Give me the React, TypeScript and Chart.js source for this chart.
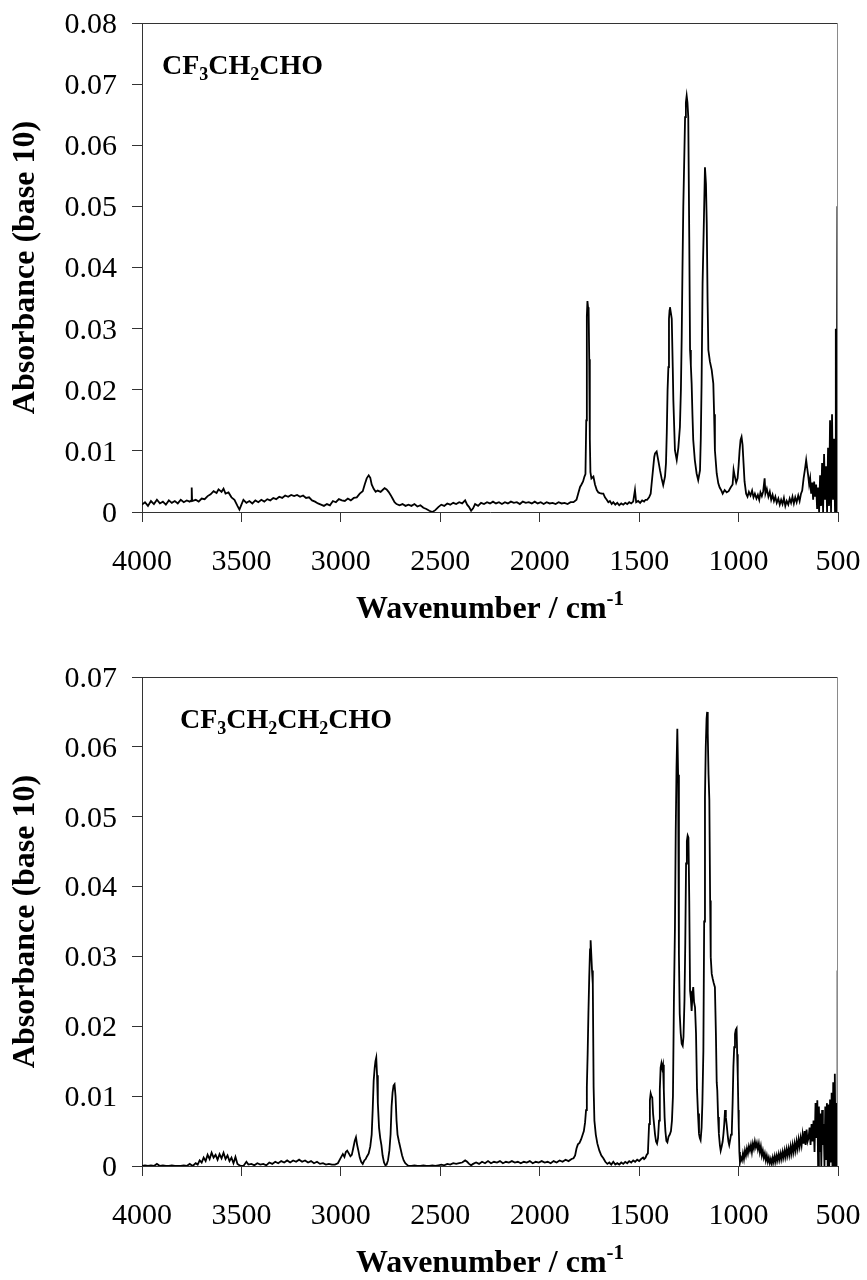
import React, { useEffect, useRef } from "react";
import { Chart, registerables } from "chart.js";

Chart.register(...registerables);

type Pair = [number, number];
type Run = { t: string; sub?: boolean; sup?: boolean };

// ---- axes ----
const X_MIN = 500;
const X_MAX = 4000;
const X_STEP = 500;
const Y_STEP = 0.01;
const topYMax = 0.08;
const bottomYMax = 0.07;

// ---- text ----
const yAxisTitle = "Absorbance (base 10)";
const xAxisTitle: Run[] = [{ t: "Wavenumber / cm" }, { t: "-1", sup: true }];
const topCompound: Run[] = [
  { t: "CF" }, { t: "3", sub: true }, { t: "CH" }, { t: "2", sub: true }, { t: "CHO" },
];
const bottomCompound: Run[] = [
  { t: "CF" }, { t: "3", sub: true }, { t: "CH" }, { t: "2", sub: true },
  { t: "CH" }, { t: "2", sub: true }, { t: "CHO" },
];

// ---- CF3CH2CHO spectrum: [wavenumber, absorbance] ----
const topHigh: Pair[] = [
  [4000,0.0012],[3985,0.0016],[3970,0.0010],[3955,0.0018],[3940,0.0013],[3925,0.0020],[3910,0.0014],[3895,0.0017],[3880,0.0012],[3865,0.0019],[3850,0.0015],[3835,0.0018],[3820,0.0014],[3805,0.0020],[3790,0.0016],[3775,0.0019],[3760,0.0017],[3752,0.0019],[3750,0.0040],[3748,0.0018],[3730,0.0020],[3715,0.0017],[3700,0.0022],[3685,0.0021],[3670,0.0026],[3655,0.0029],[3640,0.0034],[3625,0.0031],[3615,0.0037],[3600,0.0033],[3590,0.0038],[3580,0.0030],[3565,0.0032],[3550,0.0024],[3535,0.0020],[3520,0.0010],[3510,0.0004],[3500,0.0012],[3490,0.0020],[3475,0.0015],[3460,0.0018],[3445,0.0014],[3430,0.0019],[3415,0.0016],[3400,0.0020],[3385,0.0017],[3370,0.0021],[3355,0.0019],[3340,0.0023],[3325,0.0021],[3310,0.0025],[3295,0.0023],[3280,0.0027],[3265,0.0025],[3250,0.0028],[3235,0.0026],[3220,0.0028],[3205,0.0025],[3190,0.0027],[3175,0.0023],[3160,0.0024],[3145,0.0019],[3130,0.0017],[3115,0.0014],[3100,0.0012],[3085,0.0010],[3070,0.0013],[3055,0.0011],[3040,0.0018],[3025,0.0016],[3010,0.0021],[2995,0.0019],[2980,0.0018],[2965,0.0022],[2950,0.0019],[2935,0.0023],[2920,0.0024],[2905,0.0030],[2890,0.0034],[2880,0.0045],[2870,0.0055],[2860,0.0060],[2852,0.0056],[2845,0.0045],[2835,0.0038],[2825,0.0033],[2815,0.0035],[2800,0.0033],[2790,0.0036],[2780,0.0039],[2770,0.0037],[2760,0.0033],[2750,0.0028],[2740,0.0022],[2730,0.0016],[2720,0.0013],[2705,0.0011],[2690,0.0013],[2675,0.0010],[2660,0.0012],[2645,0.0010],[2630,0.0013],[2615,0.0009],[2600,0.0011],[2585,0.0007],[2570,0.0005],[2555,0.0002],[2540,0.0000],[2525,0.0003],[2510,0.0008],[2495,0.0012],[2480,0.0010],[2465,0.0014],[2450,0.0012],[2435,0.0015],[2420,0.0013],[2405,0.0016],[2390,0.0014],[2375,0.0019],[2365,0.0012],[2355,0.0008],[2345,0.0002],[2335,0.0006],[2325,0.0013],[2310,0.0010],[2295,0.0015],[2280,0.0013],[2265,0.0016],[2250,0.0014],[2235,0.0017],[2220,0.0014],[2205,0.0016],[2190,0.0013],[2175,0.0016],[2160,0.0014],[2145,0.0017],[2130,0.0015],[2115,0.0016],[2100,0.0013],[2085,0.0017],[2070,0.0015],[2055,0.0016],[2040,0.0014],[2025,0.0017],[2010,0.0014],[1995,0.0016],[1980,0.0013],[1965,0.0016],[1950,0.0014],[1935,0.0015],[1920,0.0013],[1905,0.0016],[1890,0.0014],[1875,0.0015],[1860,0.0013],[1845,0.0016],
];
const topCarbonyl: Pair[] = [
  [1830,0.0016],[1815,0.0020],[1805,0.0032],[1797,0.0041],[1790,0.0045],[1782,0.0050],[1775,0.0058],[1770,0.0062],[1766,0.0150],[1763,0.0320],[1760,0.0345],[1757,0.0335],[1754,0.0330],[1751,0.0250],[1748,0.0120],[1745,0.0065],[1740,0.0055],[1730,0.0058],[1722,0.0045],[1713,0.0036],[1705,0.0032],[1697,0.0031],[1688,0.0030],[1680,0.0030],[1672,0.0024],[1663,0.0020],[1655,0.0016],[1647,0.0018],[1638,0.0013],[1630,0.0016],[1620,0.0012],[1610,0.0015],[1600,0.0011],[1590,0.0014],[1580,0.0012],[1570,0.0015],[1560,0.0013],[1550,0.0016],[1540,0.0014],[1530,0.0017],[1521,0.0036],[1515,0.0016],[1505,0.0018],[1495,0.0015],[1485,0.0019],[1475,0.0017],[1468,0.0020],
];
const topFingerprint: Pair[] = [
  [1460,0.0020],[1450,0.0024],[1442,0.0030],[1437,0.0047],[1430,0.0070],[1424,0.0090],[1420,0.0096],[1412,0.0099],[1404,0.0085],[1395,0.0068],[1387,0.0055],[1379,0.0044],[1370,0.0058],[1365,0.0080],[1361,0.0130],[1357,0.0200],[1353,0.0237],[1350,0.0316],[1347,0.0330],[1345,0.0335],[1340,0.0325],[1336,0.0316],[1331,0.0237],[1328,0.0183],[1320,0.0101],[1311,0.0085],[1303,0.0105],[1295,0.0139],[1290,0.0200],[1286,0.0286],[1282,0.0400],[1278,0.0499],[1273,0.0580],[1269,0.0646],[1265,0.0670],[1261,0.0681],[1257,0.0670],[1253,0.0646],[1248,0.0450],[1244,0.0265],[1240,0.0240],[1236,0.0210],[1232,0.0160],[1228,0.0118],[1220,0.0085],[1211,0.0063],[1203,0.0052],[1194,0.0068],[1190,0.0120],[1186,0.0210],[1181,0.0374],[1174,0.0483],[1169,0.0564],[1164,0.0537],[1160,0.0472],[1156,0.0350],[1152,0.0265],[1144,0.0246],[1135,0.0232],[1127,0.0210],[1123,0.0160],[1119,0.0101],[1110,0.0063],[1102,0.0047],[1095,0.0040],[1088,0.0036],
];
const topLow: Pair[] = [
  [1080,0.0030],[1070,0.0036],[1060,0.0032],[1050,0.0034],[1040,0.0040],[1030,0.0045],[1025,0.0069],[1020,0.0060],[1012,0.0048],[1005,0.0055],[1000,0.0075],[995,0.0100],[990,0.0118],[985,0.0123],[980,0.0110],[975,0.0080],[970,0.0050],[962,0.0030],[955,0.0025],[948,0.0033],[940,0.0027],[932,0.0035],[925,0.0024],[918,0.0030],[910,0.0022],[903,0.0028],[896,0.0020],[890,0.0032],[883,0.0026],[876,0.0034],[869,0.0055],[865,0.0030],[858,0.0038],[850,0.0025],[843,0.0033],[836,0.0020],[829,0.0028],[822,0.0018],[815,0.0025],[808,0.0015],[800,0.0022],[793,0.0012],[786,0.0020],[779,0.0013],[772,0.0023],[765,0.0010],[758,0.0018],[750,0.0012],[743,0.0022],[736,0.0015],[729,0.0025],[722,0.0014],[715,0.0024],[708,0.0016],[700,0.0027],[693,0.0018],[686,0.0030],[680,0.0035],[673,0.0055],[666,0.0070],[660,0.0085],[655,0.0072],[650,0.0060],[645,0.0045],[640,0.0055],[635,0.0030],[630,0.0048],[625,0.0020],[620,0.0050],[615,0.0025],[610,0.0045],[605,0.0005],[600,0.0040],[595,0.0000],[590,0.0060],[585,0.0010],[580,0.0080],[575,0.0000],[570,0.0095],[565,0.0020],[560,0.0075],[555,0.0000],[550,0.0105],[545,0.0010],[540,0.0150],[535,0.0000],[530,0.0160],[525,0.0020],[520,0.0120],[515,0.0000],[511,0.0300],[507,0.0000],[503,0.0500],[501,0.0000],[500,0.0200],
];

// ---- CF3CH2CH2CHO spectrum: [wavenumber, absorbance] ----
const bottomHigh: Pair[] = [
  [4000,0.0000],[3985,0.0001],[3970,0.0000],[3955,0.0001],[3940,0.0000],[3925,0.0003],[3910,0.0000],[3895,0.0001],[3880,0.0000],[3865,0.0000],[3850,0.0001],[3835,0.0000],[3820,0.0000],[3805,0.0000],[3790,0.0001],[3775,0.0000],[3760,0.0003],[3745,0.0000],[3730,0.0004],[3720,0.0002],[3710,0.0008],[3700,0.0005],[3690,0.0012],[3680,0.0007],[3670,0.0016],[3660,0.0010],[3650,0.0019],[3640,0.0012],[3630,0.0016],[3620,0.0009],[3610,0.0017],[3600,0.0011],[3590,0.0019],[3580,0.0010],[3570,0.0015],[3560,0.0007],[3550,0.0012],[3540,0.0004],[3530,0.0013],[3520,0.0003],[3510,0.0001],[3500,0.0000],[3490,0.0000],[3475,0.0006],[3465,0.0002],[3450,0.0003],[3435,0.0001],[3420,0.0004],[3405,0.0002],[3390,0.0003],[3375,0.0001],[3360,0.0005],[3345,0.0003],[3330,0.0006],[3315,0.0004],[3300,0.0007],[3285,0.0005],[3270,0.0008],[3255,0.0005],[3240,0.0008],[3225,0.0006],[3210,0.0009],[3195,0.0006],[3180,0.0008],[3165,0.0005],[3150,0.0007],[3135,0.0004],[3120,0.0006],[3105,0.0003],[3090,0.0004],[3075,0.0002],[3060,0.0003],[3045,0.0002],[3030,0.0002],[3015,0.0004],
  [3000,0.0012],[2990,0.0017],[2982,0.0013],[2975,0.0020],[2968,0.0022],[2960,0.0018],[2952,0.0014],[2945,0.0016],[2938,0.0025],[2930,0.0036],[2924,0.0041],[2918,0.0030],[2912,0.0022],[2905,0.0012],[2898,0.0006],[2890,0.0003],[2882,0.0008],[2875,0.0010],[2868,0.0014],[2860,0.0018],[2852,0.0028],[2845,0.0045],[2840,0.0080],[2835,0.0122],[2830,0.0140],[2826,0.0150],[2822,0.0155],[2818,0.0130],[2814,0.0090],[2808,0.0055],[2802,0.0040],[2796,0.0030],[2790,0.0015],[2783,0.0005],[2776,0.0001],[2770,0.0002],[2763,0.0008],[2756,0.0022],[2750,0.0045],[2745,0.0085],[2740,0.0105],[2735,0.0115],[2730,0.0117],[2725,0.0100],[2720,0.0065],[2715,0.0045],[2708,0.0035],[2700,0.0025],[2692,0.0015],[2684,0.0008],[2676,0.0004],[2668,0.0002],[2660,0.0000],
  [2645,0.0000],[2630,0.0001],[2615,0.0000],[2600,0.0000],[2585,0.0001],[2570,0.0000],[2555,0.0000],[2540,0.0001],[2525,0.0000],[2510,0.0001],[2495,0.0002],[2480,0.0001],[2465,0.0003],[2450,0.0002],[2435,0.0004],[2420,0.0003],[2405,0.0004],[2390,0.0005],[2375,0.0008],[2365,0.0006],[2355,0.0003],[2345,0.0001],[2335,0.0003],[2320,0.0005],[2305,0.0003],[2290,0.0006],[2275,0.0004],[2260,0.0007],[2245,0.0004],[2230,0.0006],[2215,0.0005],[2200,0.0007],[2185,0.0004],[2170,0.0006],[2155,0.0005],[2140,0.0007],[2125,0.0005],[2110,0.0006],[2095,0.0004],[2080,0.0006],[2065,0.0005],[2050,0.0007],[2035,0.0004],[2020,0.0006],[2005,0.0005],[1990,0.0007],[1975,0.0005],[1960,0.0006],[1945,0.0004],[1930,0.0007],[1915,0.0005],[1900,0.0008],[1885,0.0006],[1870,0.0009],[1855,0.0007],[1840,0.0010],
];
const bottomCarbonyl: Pair[] = [
  [1830,0.0011],[1822,0.0015],[1815,0.0025],[1808,0.0031],[1800,0.0033],[1792,0.0038],[1785,0.0044],[1778,0.0050],[1772,0.0062],[1767,0.0080],[1763,0.0113],[1759,0.0160],[1755,0.0220],[1751,0.0270],[1747,0.0310],[1744,0.0323],[1741,0.0305],[1737,0.0280],[1733,0.0260],[1729,0.0113],[1725,0.0065],[1718,0.0045],[1710,0.0032],[1700,0.0022],[1690,0.0015],[1680,0.0011],[1670,0.0006],[1660,0.0003],[1650,0.0005],[1640,0.0002],[1630,0.0006],[1620,0.0002],[1610,0.0004],[1600,0.0002],[1590,0.0005],[1580,0.0003],[1570,0.0006],[1560,0.0004],[1550,0.0007],[1540,0.0005],[1530,0.0008],[1520,0.0006],[1510,0.0009],[1500,0.0007],[1490,0.0010],[1480,0.0012],
];
const bottomFingerprint: Pair[] = [
  [1475,0.0010],[1468,0.0012],[1462,0.0016],[1456,0.0018],[1450,0.0060],[1446,0.0094],[1442,0.0104],[1438,0.0100],[1434,0.0098],[1430,0.0075],[1425,0.0060],[1420,0.0045],[1415,0.0035],[1410,0.0032],[1405,0.0040],[1400,0.0065],[1396,0.0110],[1392,0.0141],[1388,0.0147],[1384,0.0140],[1380,0.0145],[1376,0.0110],[1372,0.0070],[1368,0.0050],[1363,0.0036],[1358,0.0034],[1352,0.0042],[1346,0.0045],[1340,0.0050],[1335,0.0065],[1330,0.0100],[1325,0.0240],[1320,0.0340],[1316,0.0480],[1312,0.0571],[1308,0.0626],[1304,0.0560],[1300,0.0304],[1296,0.0218],[1291,0.0190],[1286,0.0175],[1281,0.0172],[1277,0.0185],[1272,0.0237],[1268,0.0320],[1264,0.0433],[1260,0.0465],[1256,0.0473],[1252,0.0470],[1248,0.0380],[1244,0.0251],[1240,0.0240],[1236,0.0222],[1232,0.0245],[1228,0.0256],[1224,0.0235],[1219,0.0227],[1214,0.0190],[1209,0.0110],[1204,0.0075],[1199,0.0046],[1195,0.0040],[1191,0.0037],[1186,0.0055],[1182,0.0090],[1177,0.0165],[1173,0.0350],[1169,0.0528],[1165,0.0600],[1161,0.0640],[1158,0.0650],[1155,0.0620],[1151,0.0560],[1147,0.0524],[1143,0.0380],[1140,0.0299],[1135,0.0275],[1130,0.0268],[1125,0.0262],[1119,0.0256],[1114,0.0190],[1110,0.0120],[1107,0.0108],[1103,0.0070],[1099,0.0046],[1094,0.0030],[1090,0.0022],[1085,0.0028],[1080,0.0035],[1076,0.0046],[1072,0.0060],[1068,0.0080],[1064,0.0070],[1060,0.0060],[1055,0.0045],[1051,0.0035],[1047,0.0030],[1042,0.0038],[1038,0.0045],[1034,0.0050],[1030,0.0090],[1026,0.0142],[1022,0.0170],[1018,0.0189],[1014,0.0195],[1010,0.0197],[1007,0.0160],[1004,0.0128],[1001,0.0080],[999,0.0056],[996,0.0020],[993,0.0005],
];
const bottomLow: Pair[] = [
  [988,0.0012],[983,0.0008],[978,0.0018],[973,0.0010],[968,0.0022],[963,0.0015],[958,0.0025],[953,0.0018],[948,0.0028],[943,0.0022],[938,0.0030],[933,0.0020],[928,0.0032],[923,0.0025],[918,0.0035],[913,0.0027],[908,0.0033],[903,0.0024],[898,0.0032],[893,0.0020],[888,0.0028],[883,0.0015],[878,0.0022],[873,0.0012],[868,0.0018],[863,0.0008],[858,0.0015],[853,0.0006],[848,0.0012],[843,0.0004],[838,0.0010],[833,0.0003],[828,0.0012],[823,0.0005],[818,0.0014],[813,0.0006],[808,0.0015],[803,0.0008],[798,0.0017],[793,0.0009],[788,0.0018],[783,0.0010],[778,0.0020],[773,0.0012],[768,0.0022],[763,0.0013],[758,0.0024],[753,0.0015],[748,0.0025],[743,0.0016],[738,0.0028],[733,0.0018],[728,0.0030],[723,0.0020],[718,0.0032],[713,0.0022],[708,0.0035],[703,0.0025],[698,0.0038],[693,0.0028],[688,0.0040],[683,0.0030],[678,0.0045],[673,0.0032],[668,0.0050],[663,0.0030],[658,0.0052],[653,0.0035],[648,0.0040],[643,0.0055],[638,0.0030],[633,0.0060],[628,0.0035],[623,0.0065],[618,0.0020],[613,0.0090],[608,0.0040],[604,0.0094],[600,0.0000],[596,0.0085],[592,0.0020],[588,0.0075],[584,0.0000],[580,0.0080],[576,0.0030],[572,0.0060],[568,0.0000],[564,0.0085],[560,0.0010],[556,0.0090],[552,0.0000],[548,0.0088],[544,0.0000],[540,0.0095],[536,0.0005],[532,0.0105],[528,0.0000],[524,0.0120],[520,0.0000],[516,0.0132],[512,0.0000],[508,0.0090],[505,0.0000],[502,0.0280],[500,0.0000],
];

const topSpectrum: Pair[] = [...topHigh, ...topCarbonyl, ...topFingerprint, ...topLow];
const bottomSpectrum: Pair[] = [...bottomHigh, ...bottomCarbonyl, ...bottomFingerprint, ...bottomLow];

const SERIF = "'Liberation Serif', 'Times New Roman', serif";
const W = 867;
const H = 626;

function drawRuns(ctx: CanvasRenderingContext2D, x: number, y: number, runs: Run[], size: number, smallSize: number, subDy: number, supDy: number, measureOnly = false): number {
  let cx = x;
  for (const r of runs) {
    const s = r.sub || r.sup ? smallSize : size;
    ctx.font = `bold ${s}px ${SERIF}`;
    const dy = r.sub ? subDy : r.sup ? -supDy : 0;
    if (!measureOnly) ctx.fillText(r.t, cx, y + dy);
    cx += ctx.measureText(r.t).width;
  }
  return cx - x;
}

function noEdgePadding(s: any) {
  s.paddingTop = 0;
  s.paddingBottom = 0;
  s.paddingLeft = 0;
  s.paddingRight = 0;
}

function SpectrumChart(props: { data: Pair[]; yMax: number; compound: Run[]; labelX: number; top: number }) {
  const ref = useRef<HTMLCanvasElement>(null);
  useEffect(() => {
    const canvas = ref.current;
    if (!canvas) return;
    const { data, yMax, compound, labelX } = props;

    const decor = {
      id: "decor",
      afterDraw(chart: any) {
        const ctx: CanvasRenderingContext2D = chart.ctx;
        const a = chart.chartArea;
        ctx.save();
        // plot frame (top and right)
        ctx.lineWidth = 1;
        ctx.strokeStyle = "#333";
        ctx.beginPath();
        ctx.moveTo(a.left, a.top + 0.5);
        ctx.lineTo(a.right, a.top + 0.5);
        ctx.stroke();
        ctx.strokeStyle = "#8a8a8a";
        ctx.beginPath();
        ctx.moveTo(a.right - 0.5, a.top);
        ctx.lineTo(a.right - 0.5, a.bottom);
        ctx.stroke();

        ctx.fillStyle = "#000";
        ctx.textBaseline = "alphabetic";
        ctx.textAlign = "left";
        // compound label
        drawRuns(ctx, labelX, a.top + 51, compound, 28, 18, 6, 0);
        // x title
        const tw = drawRuns(ctx, 0, 0, xAxisTitle, 32, 21, 0, 13, true);
        drawRuns(ctx, (a.left + a.right) / 2 - tw / 2, a.bottom + 106, xAxisTitle, 32, 21, 0, 13);
        // y title
        ctx.translate(26, (a.top + a.bottom) / 2);
        ctx.rotate(-Math.PI / 2);
        ctx.font = `bold 32px ${SERIF}`;
        ctx.textAlign = "center";
        ctx.textBaseline = "middle";
        ctx.fillText(yAxisTitle, 0, 0);
        ctx.restore();
      },
    };

    const chart = new Chart(canvas, {
      type: "line",
      data: {
        datasets: [
          {
            data: data.map(([x, y]) => ({ x, y })),
            borderColor: "#000",
            borderWidth: 1.8,
            pointRadius: 0,
            tension: 0,
            fill: false,
          },
        ],
      },
      options: {
        animation: false,
        responsive: false,
        maintainAspectRatio: false,
        events: [],
        layout: { padding: { left: 0, right: W - 838, top: 23, bottom: 0 } },
        plugins: { legend: { display: false }, tooltip: { enabled: false } },
        scales: {
          x: {
            type: "linear",
            min: X_MIN,
            max: X_MAX,
            reverse: true,
            ticks: {
              stepSize: X_STEP,
              autoSkip: false,
              maxRotation: 0,
              padding: 22,
              color: "#000",
              font: { family: SERIF, size: 30 },
              callback: (v: any) => String(v),
            },
            grid: { display: true, drawOnChartArea: false, drawTicks: true, tickLength: 10, tickColor: "#333", color: "#333" },
            border: { display: true, color: "#333", width: 1 },
            afterFit: (s: any) => { s.height = H - 512; noEdgePadding(s); },
          },
          y: {
            type: "linear",
            min: 0,
            max: yMax,
            ticks: {
              stepSize: Y_STEP,
              padding: 15,
              labelOffset: 2,
              color: "#000",
              font: { family: SERIF, size: 30 },
              callback: (v: any) => (Math.abs(Number(v)) < 1e-9 ? "0" : Number(v).toFixed(2)),
            },
            grid: { display: true, drawOnChartArea: false, drawTicks: true, tickLength: 10, tickColor: "#333", color: "#333" },
            border: { display: true, color: "#333", width: 1 },
            afterFit: (s: any) => { s.width = 142; noEdgePadding(s); },
          },
        },
      } as any,
      plugins: [decor],
    });
    return () => chart.destroy();
  }, []);
  return (
    <canvas
      ref={ref}
      width={W}
      height={H}
      style={{ position: "absolute", left: 0, top: props.top, width: W, height: H }}
    />
  );
}

export default function App() {
  return (
    <div style={{ position: "absolute", left: 0, top: 0, width: W, height: 1280, background: "#fff" }}>
      <SpectrumChart data={topSpectrum} yMax={topYMax} compound={topCompound} labelX={162} top={0} />
      <SpectrumChart data={bottomSpectrum} yMax={bottomYMax} compound={bottomCompound} labelX={180} top={654} />
    </div>
  );
}
